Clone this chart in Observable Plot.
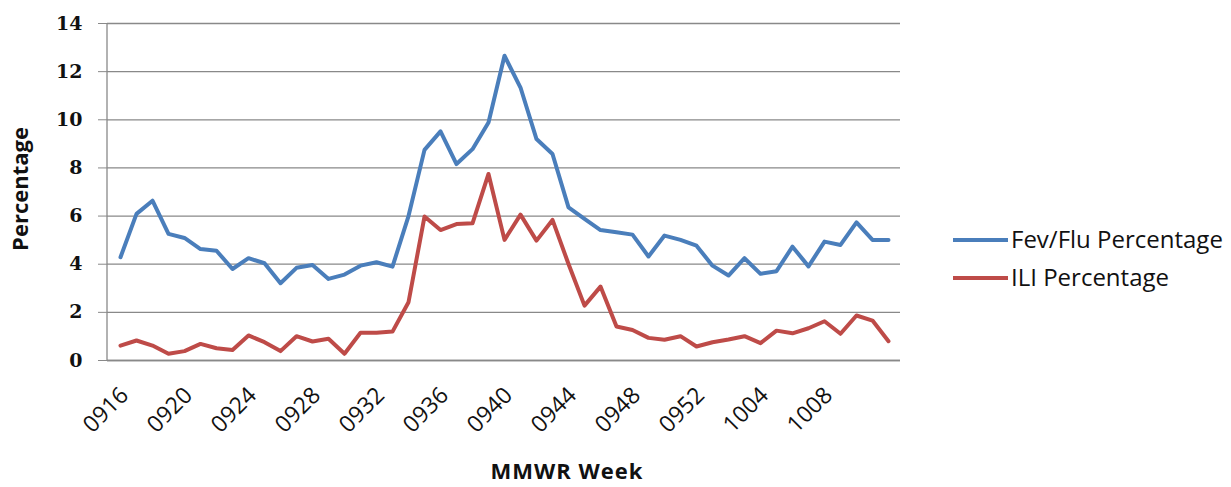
<!DOCTYPE html>
<html>
<head>
<meta charset="utf-8">
<script src="https://cdn.jsdelivr.net/npm/d3@7"></script>
<script src="https://cdn.jsdelivr.net/npm/@observablehq/plot@0.6"></script>
<style>
  html, body { margin: 0; padding: 0; background: #fff; }
  #chart { width: 1231px; height: 487px; }
</style>
</head>
<body>
<div id="chart"></div>
<script>
const weeks = [
  "0916","0917","0918","0919","0920","0921","0922","0923","0924","0925",
  "0926","0927","0928","0929","0930","0931","0932","0933","0934","0935",
  "0936","0937","0938","0939","0940","0941","0942","0943","0944","0945",
  "0946","0947","0948","0949","0950","0951","0952","1001","1002","1003",
  "1004","1005","1006","1007","1008","1009","1010","1011","1012"
];
const fevFlu = [
  4.29, 6.09, 6.64, 5.26, 5.09, 4.63, 4.56, 3.80, 4.25, 4.04,
  3.21, 3.85, 3.97, 3.39, 3.57, 3.94, 4.08, 3.90, 6.00, 8.75,
  9.52, 8.16, 8.78, 9.89, 12.66, 11.34, 9.20, 8.58, 6.36, 5.88,
  5.42, 5.33, 5.23, 4.32, 5.19, 5.01, 4.77, 3.94, 3.53, 4.25,
  3.60, 3.71, 4.73, 3.91, 4.94, 4.80, 5.74, 5.01, 5.01
];
const ili = [
  0.62, 0.83, 0.62, 0.28, 0.39, 0.69, 0.51, 0.44, 1.04, 0.76,
  0.39, 1.01, 0.79, 0.90, 0.28, 1.15, 1.15, 1.20, 2.42, 5.98,
  5.42, 5.67, 5.70, 7.75, 5.01, 6.06, 4.98, 5.84, 4.01, 2.28,
  3.07, 1.41, 1.27, 0.94, 0.86, 1.01, 0.58, 0.76, 0.87, 1.01,
  0.72, 1.24, 1.13, 1.34, 1.63, 1.11, 1.87, 1.66, 0.80
];
const tickWeeks = ["0916","0920","0924","0928","0932","0936","0940","0944","0948","0952","1004","1008"];
const yTicks = [0, 2, 4, 6, 8, 10, 12, 14];
const seriesNames = ["Fev/Flu Percentage", "ILI Percentage"];
const seriesColors = ["#4A7EBB", "#BE4B48"];

const rows = [];
weeks.forEach((w, i) => {
  rows.push({week: w, value: fevFlu[i], series: seriesNames[0]});
  rows.push({week: w, value: ili[i], series: seriesNames[1]});
});

const sans = "'Open Sans', Lato, sans-serif";

const plot = Plot.plot({
  width: 1231,
  height: 487,
  marginLeft: 107,
  marginRight: 331,
  marginTop: 23,
  marginBottom: 127,
  style: {fontFamily: sans, background: "#fff", overflow: "visible"},
  x: {type: "point", domain: weeks, padding: 0.5},
  y: {domain: [0, 14]},
  color: {domain: seriesNames, range: seriesColors},
  marks: [
    Plot.gridY(yTicks, {stroke: "#898989", strokeOpacity: 1, strokeWidth: 1.3}),
    Plot.axisY(yTicks, {
      tickSize: 9, stroke: "#898989", tickPadding: 16,
      fontSize: 19, fontWeight: "bold", fontFamily: "'DejaVu Serif', serif", fill: "#111",
      label: null
    }),
    Plot.axisX(tickWeeks, {
      tickSize: 0, tickPadding: 31, tickRotate: -45, dx: 4,
      fontSize: 23, fill: "#111",
      label: null
    }),
    Plot.ruleY([0], {stroke: "#898989", strokeWidth: 1.3}),
    Plot.line(rows, {x: "week", y: "value", z: "series", stroke: "series", strokeWidth: 4, strokeLinejoin: "round"})
  ]
});

document.getElementById("chart").appendChild(plot);

const svg = d3.select(plot);
const ys = plot.scale("y");

// Y axis line
svg.append("line")
  .attr("x1", 107).attr("x2", 107)
  .attr("y1", ys.apply(14)).attr("y2", ys.apply(0))
  .attr("stroke", "#898989").attr("stroke-width", 1.3);

// Axis titles
svg.append("text")
  .attr("transform", "translate(28,189) rotate(-90)")
  .attr("text-anchor", "middle")
  .attr("font-family", sans).attr("font-size", 22).attr("font-weight", "bold").attr("fill", "#111")
  .text("Percentage");
svg.append("text")
  .attr("x", 567).attr("y", 479)
  .attr("text-anchor", "middle")
  .attr("font-family", sans).attr("font-size", 22).attr("font-weight", "bold").attr("fill", "#111")
  .attr("letter-spacing", 1)
  .text("MMWR Week");

// Legend
const legend = svg.append("g")
  .attr("font-family", sans).attr("font-size", 24).attr("fill", "#111").attr("text-anchor", "start");
seriesNames.forEach((name, i) => {
  const y = 240 + i * 38;
  legend.append("line").attr("x1", 953).attr("x2", 1008).attr("y1", y).attr("y2", y)
    .attr("stroke", seriesColors[i]).attr("stroke-width", 4);
  legend.append("text").attr("x", 1011).attr("y", y).attr("dy", "0.35em").text(name);
});
</script>
</body>
</html>
